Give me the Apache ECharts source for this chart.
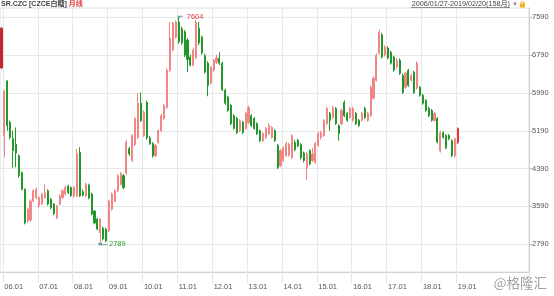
<!DOCTYPE html>
<html><head><meta charset="utf-8">
<script src="https://cdn.jsdelivr.net/npm/echarts@6/dist/echarts.min.js"></script>
<style>html,body{margin:0;padding:0;background:#fff}#c{width:554px;height:296px}</style>
</head><body><div id="c"></div>
<script>
// Monthly OHLC, SR.CZC 2006-01 .. 2019-02 (158 months)
const opens = [
6520,5090,6240,5370,5020,4900,4660,4300,3950,3280,3300,3700,
3770,3600,3650,3780,3920,3740,3640,3350,3640,3780,3850,4020,
3990,3810,3810,4730,3900,3810,4040,3850,3490,3320,3030,3130,
3110,3070,3530,3700,3920,4060,4240,4300,4810,4560,4900,5050,
5770,5090,5790,5040,4920,4660,4940,5190,5450,5680,6470,6900,
7170,7490,7350,7280,7110,6750,6580,6740,7360,7170,6780,6620,
6200,6470,6640,6720,6620,6050,5900,5730,5510,5450,5190,5370,
5240,5360,5510,5450,5340,5190,4980,5050,5130,5050,5190,4880,
4450,4560,4660,4680,4620,4940,4990,4900,4720,4410,4770,4560,
4520,4880,5050,5090,5340,5560,5470,5660,5300,5340,5790,5560,
5470,5410,5560,5410,5410,5660,5410,5510,5880,6260,6830,7220,
6790,6940,6850,6750,6540,6680,6360,6110,6470,6260,6430,6090,
6110,5940,5830,5660,5620,5410,5450,4760,5150,5090,5090,4980,
4660,4940];
const closes = [
7360,6030,5300,5050,4770,4720,4240,3950,3240,3530,3700,3920,
3950,3780,3850,3880,3640,3560,3440,3600,3810,3920,3990,3880,
3820,3990,4700,3810,3830,4060,3770,3430,3240,3110,3320,2900,
2860,3700,3850,3920,4240,4280,3990,4950,4700,5090,5450,5770,
5400,5580,5040,4920,4660,4880,5190,5510,5730,6470,7150,7470,
7490,7070,7050,6790,6700,6580,6900,7490,7050,6840,6430,6150,
6530,6680,6730,6620,6060,5770,5620,5340,5240,5150,5400,5150,
5560,5680,5300,5240,5130,4980,5130,5240,5300,5260,4980,4410,
4770,4830,4920,4900,5090,4790,4870,4620,4560,4700,4490,4700,
4920,5130,5150,5410,5660,5410,5680,5340,5130,5620,5510,5410,
5660,5660,5340,5300,5560,5470,5560,6110,6300,6790,7280,6750,
6960,6730,6620,6470,6680,6400,6000,6410,6150,6360,6000,6620,
5940,5770,5620,5510,5410,5560,4950,5150,5050,4830,5020,4660,
5020,5240];
const lows = [
6500,4630,5190,5010,4410,4420,4200,3930,3210,3250,3270,3680,
3740,3560,3620,3750,3610,3530,3410,3320,3610,3750,3820,3850,
3790,3780,3790,3790,3800,3780,3740,3400,3210,3080,2789,2870,
2830,3040,3500,3680,3890,4030,3950,4250,4660,4530,4870,5020,
5380,5060,5000,4890,4620,4640,4910,5160,5420,5650,6430,6870,
7140,7030,7010,6750,6430,6550,6550,6700,7000,6800,6400,5920,
6170,6440,6600,6580,6030,5740,5590,5310,5210,5120,5160,5120,
5210,5330,5270,5210,5100,4950,4950,5020,5100,5020,4950,4380,
4420,4530,4640,4640,4590,4760,4840,4580,4520,4150,4460,4530,
4490,4850,5000,5060,5310,5190,5440,5310,4980,5310,5480,5380,
5440,5380,5310,5270,5380,5440,5380,5480,5850,6230,6800,6720,
6760,6700,6590,6440,6500,6370,5970,6080,6120,6230,5970,6060,
5910,5740,5590,5480,5380,5380,4920,4730,5020,4800,4990,4630,
4630,4910];
const highs = [
7380,6060,6260,5400,5190,5260,4690,4330,3970,3560,3740,3960,
3990,3800,3880,4060,3950,3770,3660,3620,3840,3950,4030,4050,
4010,4020,4810,4840,3950,4090,4070,3880,3510,3350,3340,3160,
3140,3730,3880,3950,4270,4320,4280,5000,4850,5120,5480,5990,
6000,5620,5830,5080,4950,4910,5220,5550,5760,6510,7490,7490,
7520,7604,7390,7320,7150,6800,6950,7530,7490,7200,6820,6660,
6560,6710,6800,6850,6650,6080,5930,5760,5540,5480,5430,5400,
5590,5720,5540,5480,5370,5220,5160,5270,5360,5290,5220,4910,
4800,4860,4960,4940,5120,5000,5020,4930,4750,4740,4800,4830,
4950,5170,5190,5440,5700,5590,5720,5690,5330,5660,5830,5590,
5700,5700,5590,5440,5590,5700,5590,6150,6340,6830,7330,7260,
7000,6980,6880,6780,6720,6720,6400,6440,6500,6400,6460,6660,
6140,5970,5860,5700,5650,5590,5480,5190,5180,5120,5120,5010,
5050,5260];
const tickLabels = ['06.01','07.01','08.01','09.01','10.01','11.01','12.01','13.01','14.01','15.01','16.01','17.01','18.01','19.01'];
const yTicks = [2790,3590,4390,5190,5990,6790,7590];
const firstYear = 2006;
const padCount = 24;

// categories (months) + empty slots on the right
const categories = [];
for (let i = 0; i < opens.length; i++) {
  const y = firstYear + Math.floor(i / 12), m = (i % 12) + 1;
  categories.push(y + '-' + (m < 10 ? '0' + m : m));
}
for (let k = 0; k < padCount; k++) categories.push('pad' + k);

const UP = '#f08686', DOWN = '#22982b';
const candleData = opens.map((o, i) => [o, closes[i], lows[i], highs[i]]);
candleData[0] = { value: candleData[0], itemStyle: { color: '#c2272d', borderColor: '#c2272d' } };
const last = opens.length - 1;
candleData[last] = { value: candleData[last], itemStyle: { color: '#ec3339', borderColor: '#ec3339' } };

const maxVal = Math.max(...highs), maxIdx = highs.indexOf(maxVal);
const minVal = Math.min(...lows), minIdx = lows.indexOf(minVal);

const isYearTick = (idx) => idx % 12 === 1 && idx < opens.length;
const FONT = 'Liberation Sans, Noto Sans CJK SC, sans-serif';

const chart = echarts.init(document.getElementById('c'), null, { renderer: 'canvas' });
chart.setOption({
  animation: false,
  backgroundColor: '#fff',
  title: {
    left: 0, top: 0, padding: [0, 0, 0, 1],
    text: '{a|SR.CZC [CZCE白糖]} {b|月线}',
    textStyle: {
      fontSize: 7, fontFamily: FONT,
      rich: {
        a: { fontSize: 7, color: '#444', fontFamily: FONT, lineHeight: 9 },
        b: { fontSize: 7, color: '#e8383d', fontFamily: FONT, lineHeight: 9 }
      }
    }
  },
  grid: {
    left: 0, right: 25, top: 8, bottom: 24,
    show: true, borderColor: '#dcdcdc', borderWidth: 1, backgroundColor: 'transparent'
  },
  xAxis: {
    type: 'category',
    data: categories,
    boundaryGap: true,
    axisLine: { show: true, lineStyle: { color: '#d0d0d0' } },
    axisTick: { show: true, interval: isYearTick, length: 11, lineStyle: { color: '#e4e4e4' } },
    axisLabel: {
      interval: isYearTick,
      formatter: (v, idx) => tickLabels[(idx - 1) / 12] || '',
      align: 'left', margin: 11,
      fontSize: 7.5, color: '#555', fontFamily: FONT
    },
    splitLine: { show: true, interval: isYearTick, lineStyle: { color: '#e8e8e8', width: 1 } }
  },
  yAxis: {
    type: 'value',
    position: 'right',
    min: 2202, max: 7787,
    axisLine: { show: true, lineStyle: { color: '#cfcfcf' } },
    axisTick: { show: true, length: 3, customValues: yTicks, lineStyle: { color: '#bbb' } },
    axisLabel: { customValues: yTicks, formatter: (v) => String(v), margin: 3, fontSize: 7.5, color: '#555', fontFamily: FONT },
    splitLine: { show: true, lineStyle: { color: '#e8e8e8', width: 1 } }
  },
  series: [{
    type: 'candlestick',
    data: candleData,
    barWidth: 1.6,
    itemStyle: { color: UP, color0: DOWN, borderColor: UP, borderColor0: DOWN, borderWidth: 1 },
    markPoint: {
      silent: true,
      data: [
        {
          coord: [maxIdx, maxVal], value: maxVal,
          symbol: 'path://M0,3L0,0L8,0', symbolSize: [4, 2], symbolOffset: [2, 0.5],
          itemStyle: { color: 'none', borderColor: '#5f9ea0', borderWidth: 1 },
          label: { show: true, position: 'right', distance: 1, offset: [-2, 0], color: '#e0393e', fontSize: 7.5, fontFamily: FONT, formatter: String(maxVal) }
        },
        {
          coord: [minIdx, minVal], value: minVal,
          symbol: 'path://M0,0L0,3L8,3', symbolSize: [7, 2], symbolOffset: [3.5, -0.5],
          itemStyle: { color: 'none', borderColor: '#5f9ea0', borderWidth: 1 },
          label: { show: true, position: 'right', distance: 1, offset: [-8, 0], color: '#2a9a2e', fontSize: 7.5, fontFamily: FONT, formatter: String(minVal) }
        }
      ]
    }
  }],
  graphic: [
    { type: 'text', x: 510, y: 4.5, style: { text: '2006/01/27-2019/02/20(158月)', align: 'right', verticalAlign: 'middle', fontSize: 7.2, fontFamily: FONT, fill: '#444' } },
    { type: 'line', shape: { x1: 411, y1: 7.5, x2: 510, y2: 7.5 }, style: { stroke: '#666', lineWidth: 0.7 } },
    { type: 'text', x: 515, y: 4.5, style: { text: '▼', align: 'center', verticalAlign: 'middle', fontSize: 6, fill: '#8a8a8a' } },
    { type: 'rect', shape: { x: 520, y: 3.5, width: 5, height: 4 }, style: { fill: '#f3b51b' } },
    { type: 'circle', shape: { cx: 522.5, cy: 3, r: 1.6 }, style: { fill: 'none', stroke: '#f3b51b', lineWidth: 1 } },
    { type: 'text', x: 547, y: 283, style: { text: '@格隆汇', align: 'right', verticalAlign: 'middle', fontSize: 13.5, fontFamily: 'Noto Sans CJK SC, sans-serif', fill: '#a0a0a0' } }
  ]
});
</script>
</body></html>
